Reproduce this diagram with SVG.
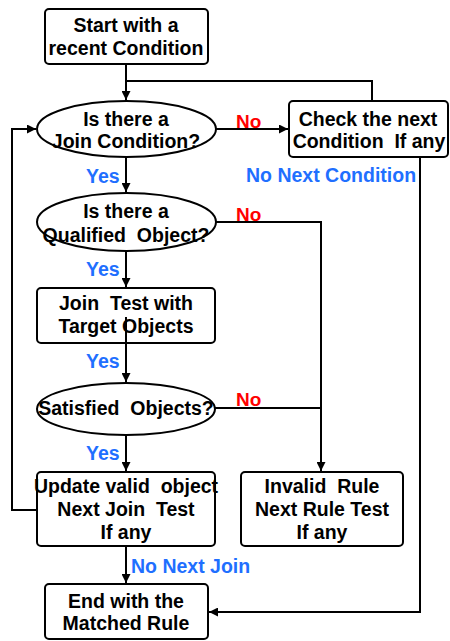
<svg xmlns="http://www.w3.org/2000/svg" width="450" height="641" viewBox="0 0 450 641">
<defs>
<marker id="ah" markerUnits="userSpaceOnUse" markerWidth="9" markerHeight="9" refX="9" refY="4.5" orient="auto">
<path d="M0,0 L9,4.5 L0,9 z" fill="#000"/>
</marker>
<style>
.box{fill:#fff;stroke:#000;stroke-width:2}
.t{font-family:"Liberation Sans",Arial,sans-serif;font-weight:bold;font-size:19.5px;fill:#000;text-anchor:middle}
.yes{font-family:"Liberation Sans",Arial,sans-serif;font-weight:bold;font-size:19.5px;fill:#1f6fff}
.no{font-family:"Liberation Sans",Arial,sans-serif;font-weight:bold;font-size:19px;fill:#ff0000}
.c{fill:none;stroke:#000;stroke-width:2}
</style>
</defs>
<rect width="450" height="641" fill="#fff"/>
<g id="start">
<rect class="box" x="45" y="9" width="163" height="55" rx="4"/>
<text class="t" x="126" y="32">Start with a</text>
<text class="t" x="126" y="55">recent Condition</text>
</g>
<g id="join-condition">
<ellipse class="box" cx="126.5" cy="129" rx="89.5" ry="28"/>
<text class="t" x="126" y="126">Is there a</text>
<text class="t" x="126" y="148">Join Condition?</text>
</g>
<g id="check-next">
<rect class="box" x="289" y="101" width="159" height="56" rx="4"/>
<text class="t" x="368" y="126">Check the next</text>
<text class="t" x="369" y="148" xml:space="preserve">Condition  If any</text>
</g>
<g id="qualified-object">
<ellipse class="box" cx="126.5" cy="222" rx="89.5" ry="29"/>
<text class="t" x="126" y="218">Is there a</text>
<text class="t" x="126" y="242" xml:space="preserve">Qualified  Object?</text>
</g>
<g id="join-test">
<rect class="box" x="37" y="288" width="178" height="55" rx="4"/>
<text class="t" x="126" y="310" xml:space="preserve">Join  Test with</text>
<text class="t" x="126" y="333">Target Objects</text>
</g>
<g id="satisfied">
<ellipse class="box" cx="126" cy="409" rx="89" ry="26"/>
<text class="t" x="126" y="415" xml:space="preserve">Satisfied  Objects?</text>
</g>
<g id="update">
<rect class="box" x="37" y="472" width="178" height="74" rx="4"/>
<text class="t" x="126" y="493" xml:space="preserve">Update valid  object</text>
<text class="t" x="126" y="516" xml:space="preserve">Next Join  Test</text>
<text class="t" x="126" y="539">If any</text>
</g>
<g id="invalid">
<rect class="box" x="241" y="472" width="162" height="74" rx="4"/>
<text class="t" x="322" y="493" xml:space="preserve">Invalid  Rule</text>
<text class="t" x="322" y="516">Next Rule Test</text>
<text class="t" x="322" y="539">If any</text>
</g>
<g id="end">
<rect class="box" x="45" y="584" width="163" height="55" rx="4"/>
<text class="t" x="126" y="608">End with the</text>
<text class="t" x="126" y="630">Matched Rule</text>
</g>
<g id="connectors">
<path class="c" d="M126,64 V100" marker-end="url(#ah)"/>
<path class="c" d="M372,101 V81 H126"/>
<path class="c" d="M216,129 H288" marker-end="url(#ah)"/>
<path class="c" d="M126,157 V192" marker-end="url(#ah)"/>
<path class="c" d="M216,222 H321 V471" marker-end="url(#ah)"/>
<path class="c" d="M126,251 V287" marker-end="url(#ah)"/>
<path class="c" d="M126,317 V382" marker-end="url(#ah)"/>
<path class="c" d="M215,408 H321"/>
<path class="c" d="M126,435 V471" marker-end="url(#ah)"/>
<path class="c" d="M37,510 H12 V129 H36" marker-end="url(#ah)"/>
<path class="c" d="M126,546 V583" marker-end="url(#ah)"/>
<path class="c" d="M420,157 V612 H209" marker-end="url(#ah)"/>
<text class="no" x="236" y="128">No</text>
<text class="no" x="236" y="221">No</text>
<text class="no" x="236" y="406">No</text>
<text class="yes" x="86" y="183">Yes</text>
<text class="yes" x="86" y="276">Yes</text>
<text class="yes" x="86" y="368">Yes</text>
<text class="yes" x="86" y="460">Yes</text>
<text class="yes" x="246" y="182">No Next Condition</text>
<text class="yes" x="131" y="573">No Next Join</text>
</g>
</svg>
